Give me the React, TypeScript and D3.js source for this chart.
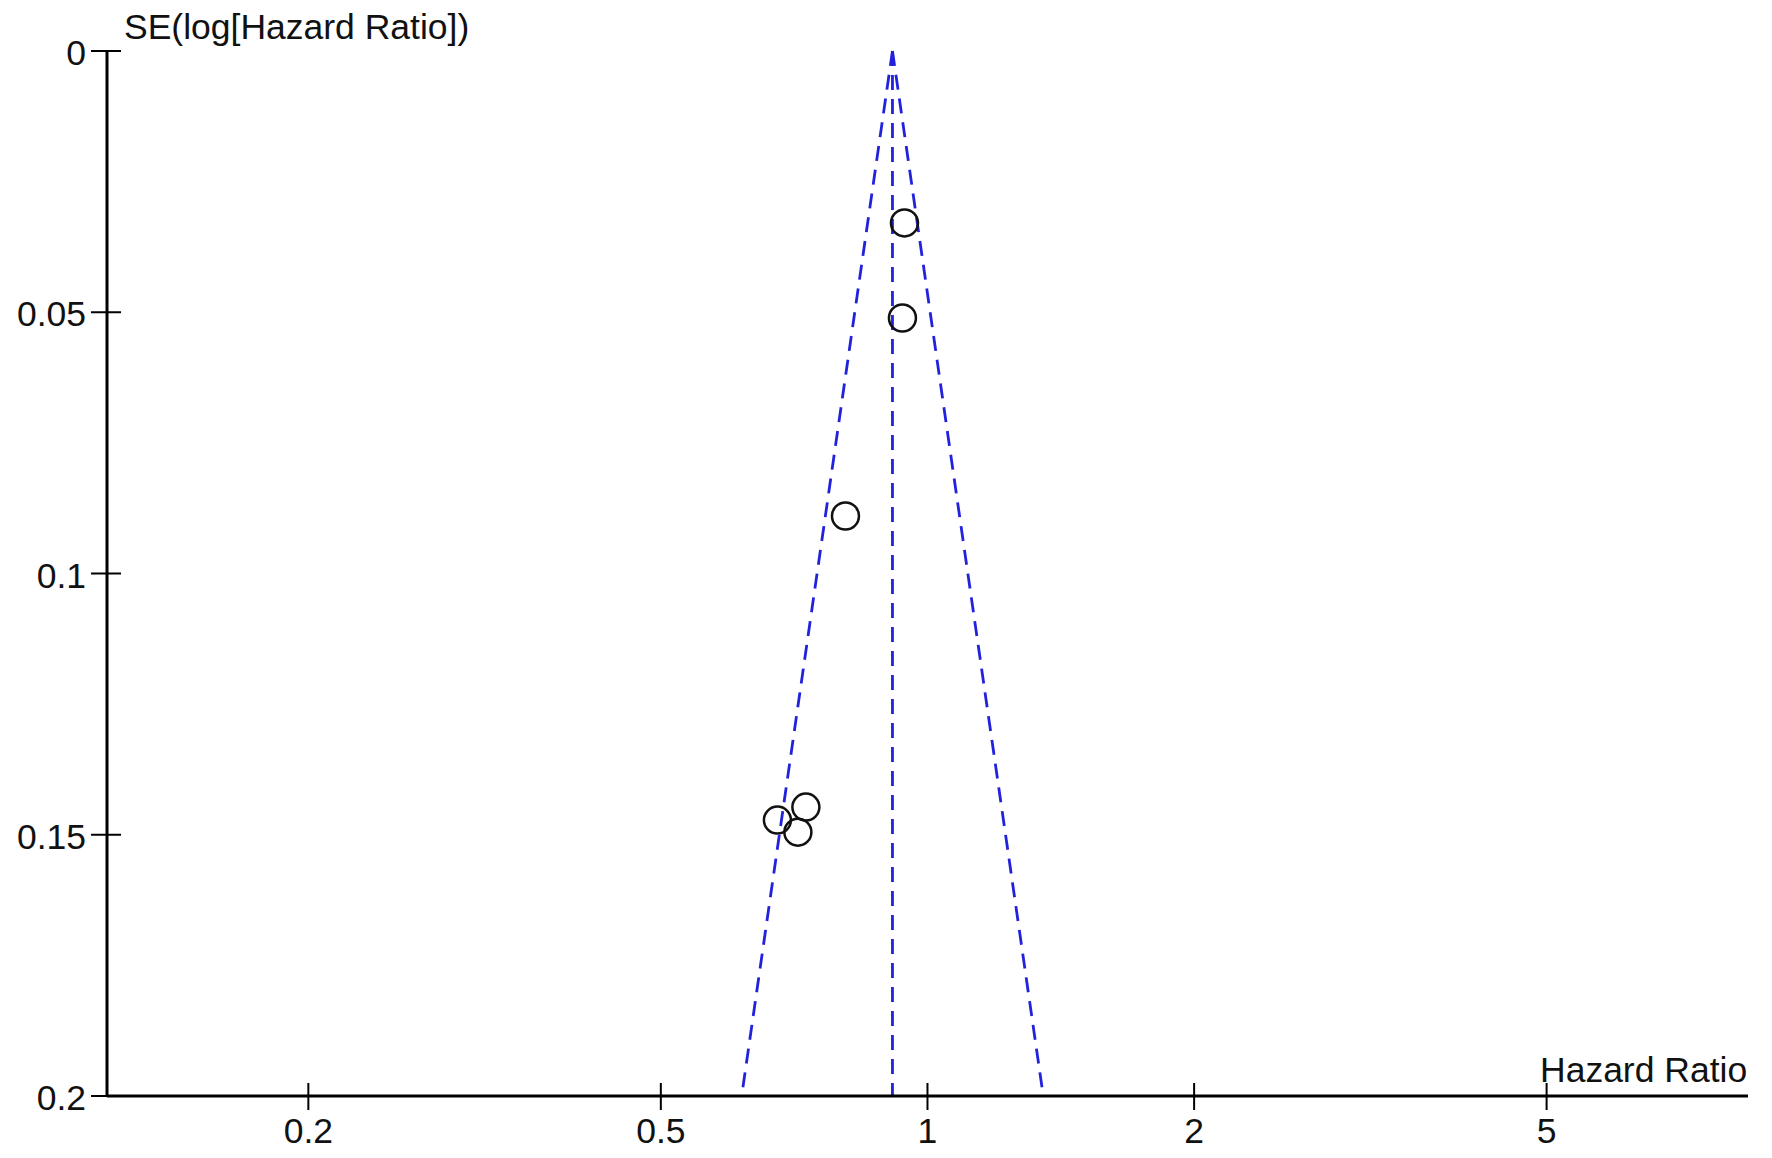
import React from "react";
import * as d3 from "d3";

const xTicks = [0.2, 0.5, 1, 2, 5];
const yTicks = [0, 0.05, 0.1, 0.15, 0.2];
const pooledHR = 0.913;
const studyHR = [0.942, 0.937, 0.808, 0.677, 0.729, 0.714];
const studySE = [0.0329, 0.0511, 0.089, 0.1472, 0.1447, 0.1495];

const W = 1772;
const H = 1158;

export default function App() {
  const x = d3.scaleLog().domain([0.1185, 8.44]).range([107, 1748]);
  const y = d3.scaleLinear().domain([0, 0.2]).range([51, 1096]);
  const font = "'Liberation Sans', Arial, Helvetica, sans-serif";
  const blue = "#2222dd";
  const seMax = 0.2;
  const lnC = Math.log(pooledHR);
  const funnelLeft = Math.exp(lnC - 1.96 * seMax);
  const funnelRight = Math.exp(lnC + 1.96 * seMax);
  const dash = "15 9";
  const fs = 35.5;

  return (
    <svg
      width={W}
      height={H}
      style={{ position: "absolute", left: 0, top: 0, background: "#fff" }}
      fontFamily={font}
    >
      <rect x={0} y={0} width={W} height={H} fill="#fff" />
      {/* funnel */}
      <line x1={x(pooledHR)} y1={y(0)} x2={x(funnelLeft)} y2={y(seMax)} stroke={blue} strokeWidth={2.8} strokeDasharray={dash} />
      <line x1={x(pooledHR)} y1={y(0)} x2={x(funnelRight)} y2={y(seMax)} stroke={blue} strokeWidth={2.8} strokeDasharray={dash} />
      <line x1={x(pooledHR)} y1={y(0)} x2={x(pooledHR)} y2={y(seMax)} stroke={blue} strokeWidth={2.8} strokeDasharray={dash} />

      {/* y axis */}
      <line x1={107} y1={y(0)} x2={107} y2={y(0.2)} stroke="#000" strokeWidth={3} />
      {yTicks.map((t) => (
        <g key={"y" + t}>
          <line x1={91} x2={121} y1={y(t)} y2={y(t)} stroke="#000" strokeWidth={2} />
          <text x={86} y={y(t) + 14} fontSize={fs} textAnchor="end" fill="#111">
            {String(t)}
          </text>
        </g>
      ))}

      {/* x axis */}
      <line x1={107} y1={y(0.2)} x2={1748} y2={y(0.2)} stroke="#000" strokeWidth={3} />
      {xTicks.map((t) => (
        <g key={"x" + t}>
          <line x1={x(t)} x2={x(t)} y1={y(0.2) - 13} y2={y(0.2) + 14} stroke="#000" strokeWidth={2} />
          <text x={x(t)} y={1143} fontSize={fs} textAnchor="middle" fill="#111">
            {String(t)}
          </text>
        </g>
      ))}

      {/* points */}
      {studyHR.map((hr, i) => (
        <circle key={i} cx={x(hr)} cy={y(studySE[i])} r={13.5} fill="none" stroke="#111" strokeWidth={2.5} />
      ))}

      <text x={124} y={39} fontSize={fs} fill="#111">SE(log[Hazard Ratio])</text>
      <text x={1540} y={1082} fontSize={fs} fill="#111">Hazard Ratio</text>
    </svg>
  );
}
